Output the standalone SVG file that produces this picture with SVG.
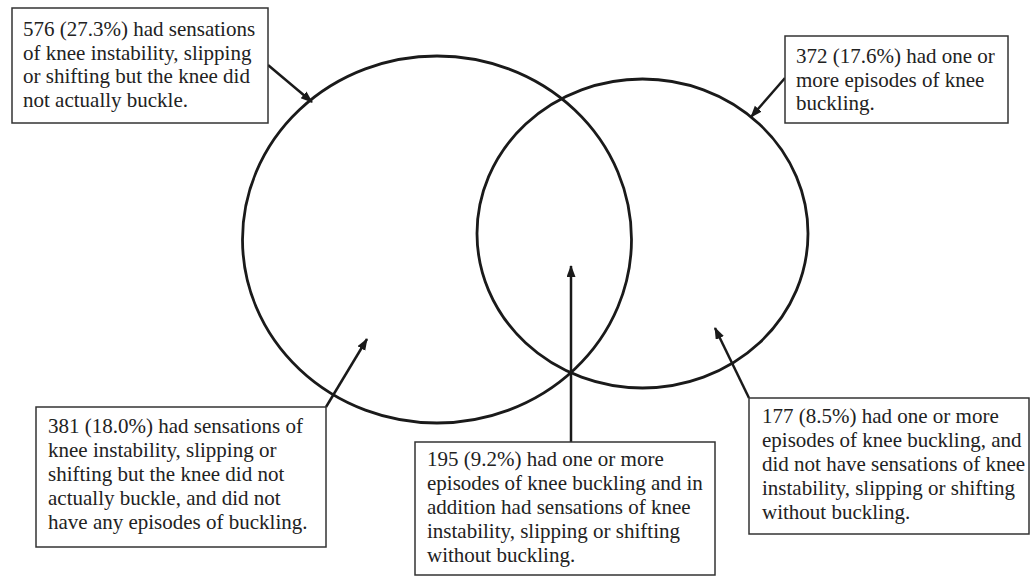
<svg xmlns="http://www.w3.org/2000/svg" width="1031" height="577" viewBox="0 0 1031 577">
<style>
.box{fill:#fff;stroke:#333;stroke-width:1.5}
.t{font-family:'Liberation Serif','Times New Roman',serif;font-size:21px;fill:#222}
.ring{fill:none;stroke:#1a1a1a;stroke-width:2.8}
.arr{fill:none;stroke:#1a1a1a;stroke-width:2.5;marker-end:url(#ah)}
</style>
<defs>
<marker id="ah" markerUnits="userSpaceOnUse" markerWidth="12" markerHeight="10" refX="11" refY="4.5" orient="auto">
<path d="M0,0 L12,4.5 L0,9 z" fill="#1a1a1a"/>
</marker>
</defs>
<rect width="1031" height="577" fill="#fff"/>
<g id="set-instability"><ellipse class="ring" cx="437" cy="239.5" rx="194.5" ry="183.5"/></g>
<g id="set-buckling"><ellipse class="ring" cx="642.5" cy="233.5" rx="165.5" ry="154.5"/></g>
<g id="connectors">
<line class="arr" x1="268" y1="65" x2="312" y2="102"/>
<line class="arr" x1="785" y1="78" x2="751" y2="117"/>
<line class="arr" x1="326" y1="407" x2="367" y2="339"/>
<line class="arr" x1="571" y1="442" x2="571" y2="266"/>
<line class="arr" x1="749" y1="398" x2="715" y2="328"/>
</g>
<g id="box-576" font-family="Liberation Serif">
<rect class="box" x="12" y="8" width="256" height="115"/>
<text class="t" x="23" y="36">576 (27.3%) had sensations</text>
<text class="t" x="23" y="59.5">of knee instability, slipping</text>
<text class="t" x="23" y="83">or shifting but the knee did</text>
<text class="t" x="23" y="106.5">not actually buckle.</text>
</g>
<g id="box-372" font-family="Liberation Serif">
<rect class="box" x="785" y="36" width="223" height="87"/>
<text class="t" x="796" y="63">372 (17.6%) had one or</text>
<text class="t" x="796" y="86.5">more episodes of knee</text>
<text class="t" x="796" y="110">buckling.</text>
</g>
<g id="box-381" font-family="Liberation Serif">
<rect class="box" x="36" y="407" width="290" height="140"/>
<text class="t" x="48" y="433">381 (18.0%) had sensations of</text>
<text class="t" x="48" y="457">knee instability, slipping or</text>
<text class="t" x="48" y="481">shifting but the knee did not</text>
<text class="t" x="48" y="505">actually buckle, and did not</text>
<text class="t" x="48" y="529">have any episodes of buckling.</text>
</g>
<g id="box-195" font-family="Liberation Serif">
<rect class="box" x="415" y="442" width="300" height="133"/>
<text class="t" x="427" y="466">195 (9.2%) had one or more</text>
<text class="t" x="427" y="490">episodes of knee buckling and in</text>
<text class="t" x="427" y="514">addition had sensations of knee</text>
<text class="t" x="427" y="538">instability, slipping or shifting</text>
<text class="t" x="427" y="562">without buckling.</text>
</g>
<g id="box-177" font-family="Liberation Serif">
<rect class="box" x="749" y="398" width="280" height="136"/>
<text class="t" x="762" y="423">177 (8.5%) had one or more</text>
<text class="t" x="762" y="447">episodes of knee buckling, and</text>
<text class="t" x="762" y="471">did not have sensations of knee</text>
<text class="t" x="762" y="495">instability, slipping or shifting</text>
<text class="t" x="762" y="519">without buckling.</text>
</g>
</svg>
